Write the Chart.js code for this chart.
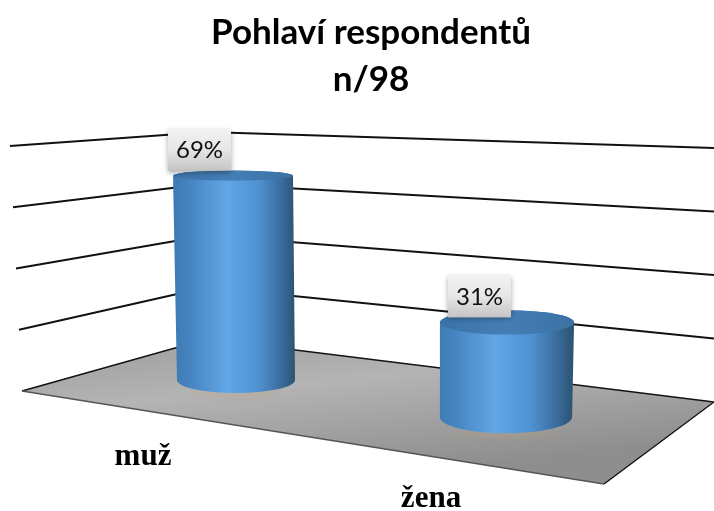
<!DOCTYPE html>
<html><head><meta charset="utf-8">
<style>html,body{margin:0;padding:0;background:#fff}#c{display:block}</style>
<script src="https://cdn.jsdelivr.net/npm/chart.js@4"></script></head>
<body><div style="width:714px;height:511px"><canvas id="c" width="714" height="511"></canvas></div>
<script>
const categories = ["muž", "žena"];
const shares = [69, 31];
const titleLines = ["Pohlaví respondentů", "n/98"];
const axisMax = 80;
const axisStep = 20;

// Perspective frame of the 3D scene
const floorLeft=[22,391], floorBack=[207,339], floorRight=[714,402], floorFront=[604,484];
const wallTop={left:[10,146], back:[207,132], right:[714,148]};

function lerp(a,b,t){return a+(b-a)*t;}
function depth(chart,x){const s=chart.scales.x;const a=s.getPixelForValue(0),b=s.getPixelForValue(1);return (x-a)/(b-a);}

const scene={
 id:'scene',
 beforeDatasetsDraw(chart){
  const ctx=chart.ctx, y=chart.scales.y;
  ctx.save();
  const g=ctx.createLinearGradient(320,340,335,480);
  g.addColorStop(0,'#a6a6a6');g.addColorStop(.3,'#b4b4b4');g.addColorStop(1,'#8e8e8e');
  ctx.beginPath();ctx.moveTo(...floorLeft);ctx.lineTo(...floorBack);ctx.lineTo(...floorRight);ctx.lineTo(...floorFront);ctx.closePath();
  ctx.fillStyle=g;ctx.fill();
  ctx.lineWidth=1.4;ctx.strokeStyle='#111';
  ctx.beginPath();ctx.moveTo(...floorLeft);ctx.lineTo(...floorBack);ctx.lineTo(...floorRight);ctx.lineTo(...floorFront);ctx.stroke();
  ctx.strokeStyle='#555';ctx.beginPath();ctx.moveTo(...floorFront);ctx.lineTo(...floorLeft);ctx.stroke();
  ctx.strokeStyle='#111';ctx.lineWidth=1.8;
  y.ticks.forEach(t=>{
   if(t.value===0)return;
   const f=t.value/axisMax;
   ctx.beginPath();
   ctx.moveTo(lerp(floorLeft[0],wallTop.left[0],f),lerp(floorLeft[1],wallTop.left[1],f));
   ctx.lineTo(lerp(floorBack[0],wallTop.back[0],f),lerp(floorBack[1],wallTop.back[1],f));
   ctx.lineTo(lerp(floorRight[0],wallTop.right[0],f),lerp(floorRight[1],wallTop.right[1],f));
   ctx.stroke();
  });
  ctx.restore();
 },
 afterDatasetsDraw(chart){
  const ctx=chart.ctx, y=chart.scales.y, meta=chart.getDatasetMeta(0);
  const zero=y.getPixelForValue(0);
  meta.data.forEach((el,i)=>{
   const d=depth(chart,el.x);
   const dy=37*d, hs=lerp(1,1.03,d), ws=lerp(1,1.12,d);
   const base=zero+dy;
   const top=base-(zero-el.y)*hs;
   const wB=el.width*ws, wT=wB*lerp(1.017,1.015,d);
   const xB=el.x, xT=el.x+lerp(-3,1,d);
   const ry=(yy,w)=>(yy-50)*0.04*w/120;
   const rT=ry(top,wT), rB=ry(base,wB);
   ctx.save();
   ctx.filter='blur(2px)';
   ctx.fillStyle='rgba(190,160,130,.28)';
   ctx.beginPath();ctx.ellipse(xB-2,base+rB+1,wB*.38,4,0,0,7);ctx.fill();
   ctx.filter='none';
   const g=ctx.createLinearGradient(xB-wB/2,0,xB+wB/2,0);
   g.addColorStop(0,'#3f7cb6');g.addColorStop(.14,'#4887c4');g.addColorStop(.42,'#62a6e6');
   g.addColorStop(.68,'#5093d2');g.addColorStop(.88,'#3a6d9f');g.addColorStop(1,'#2d5473');
   ctx.fillStyle=g;
   ctx.beginPath();
   ctx.moveTo(xT-wT/2,top);ctx.lineTo(xB-wB/2,base);
   ctx.ellipse(xB,base,wB/2,rB,0,Math.PI,0,true);
   ctx.lineTo(xT+wT/2,top);
   ctx.ellipse(xT,top,wT/2,rT,0,0,Math.PI,true);
   ctx.closePath();ctx.fill();
   const c=ctx.createLinearGradient(xT-wT/2,0,xT+wT/2,0);
   c.addColorStop(0,'#3a73a8');c.addColorStop(.5,'#447eb4');c.addColorStop(1,'#3b72a4');
   ctx.fillStyle=c;ctx.beginPath();ctx.ellipse(xT,top,wT/2,rT,0,0,7);ctx.fill();
   ctx.restore();
   const bw=63,bh=42;
   const bx=xT+lerp(-35.5,-27.5,d)-bw/2+lerp(2,0,d), by=top-5-bh;
   ctx.save();
   ctx.shadowColor='rgba(0,0,0,.35)';ctx.shadowBlur=5;ctx.shadowOffsetY=2;
   const b=ctx.createLinearGradient(0,by,0,by+bh);
   b.addColorStop(0,'#f2f2f2');b.addColorStop(.5,'#e6e6e6');b.addColorStop(1,'#c4c4c4');
   ctx.fillStyle=b;ctx.fillRect(bx,by,bw,bh);
   ctx.restore();
   ctx.fillStyle='#111';ctx.font='24px Lato';ctx.textAlign='center';ctx.textBaseline='middle';
   ctx.fillText(shares[i]+'%',bx+bw/2,by+bh/2+1);
   ctx.font='bold 31px "Liberation Serif"';ctx.textBaseline='alphabetic';ctx.fillStyle='#000';
   ctx.fillText(chart.scales.x.getLabelForValue(i),xB+lerp(-93,-75,d),lerp(465,507,d));
  });
 }
};

new Chart(document.getElementById('c'),{
 type:'bar',
 data:{labels:categories,datasets:[{data:shares,backgroundColor:'rgba(0,0,0,0)',barThickness:118}]},
 plugins:[scene],
 options:{
  responsive:false,animation:false,
  layout:{padding:{left:101,right:73,bottom:131,top:0}},
  plugins:{
   legend:{display:false},tooltip:{enabled:false},
   title:{display:true,text:titleLines,color:'#000',font:{family:'Lato',weight:'bold',size:35,lineHeight:1.343},padding:{top:9,bottom:40}}
  },
  scales:{
   x:{display:false},
   y:{display:false,min:0,max:axisMax,ticks:{stepSize:axisStep}}
  }
 }
});
</script></body></html>
